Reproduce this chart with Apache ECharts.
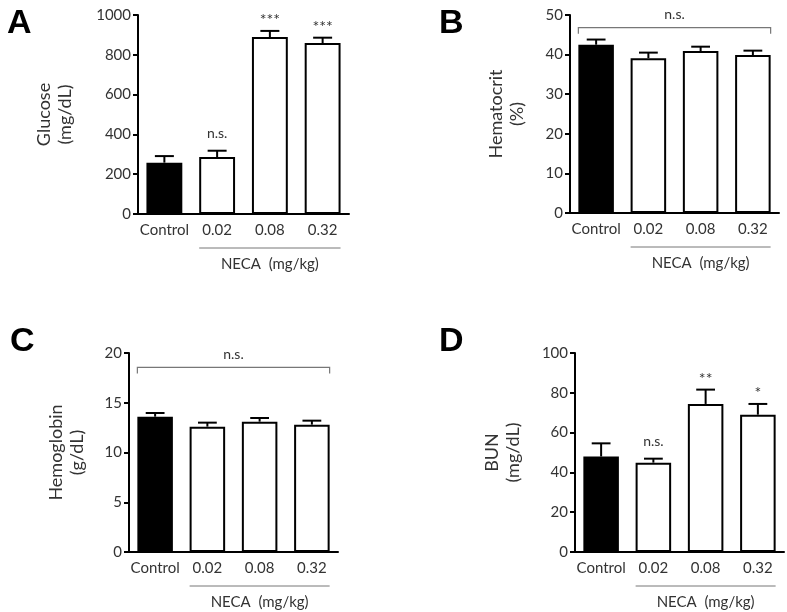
<!DOCTYPE html>
<html>
<head>
<meta charset="utf-8">
<script src="https://cdn.jsdelivr.net/npm/echarts@6/dist/echarts.min.js"></script>
<style>
html,body{margin:0;padding:0;background:#fff;}
#chart{width:787px;height:612px;}
</style>
</head>
<body>
<div id="chart"></div>
<script>
// ---- data ----
const categories = ['Control', '0.02', '0.08', '0.32'];

const glucoseMean = [258, 286, 889, 859];
const glucoseSem  = [33, 32, 31, 27];
const glucoseSig  = ['', 'n.s.', '***', '***'];

const hematocritMean = [42.5, 39.1, 40.9, 39.9];
const hematocritSem  = [1.3, 1.4, 1.1, 1.1];

const hemoglobinMean = [13.6, 12.6, 13.1, 12.8];
const hemoglobinSem  = [0.37, 0.4, 0.37, 0.4];

const bunMean = [48.0, 44.9, 74.4, 69.0];
const bunSem  = [6.6, 2.0, 7.2, 5.4];
const bunSig  = ['', 'n.s.', '**', '*'];

const glucoseTicks    = [0, 200, 400, 600, 800, 1000];
const hematocritTicks = [0, 10, 20, 30, 40, 50];
const hemoglobinTicks = [0, 5, 10, 15, 20];
const bunTicks        = [0, 20, 40, 60, 80, 100];

const groupLabel = 'NECA  (mg/kg)';

// ---- build ----
const FONT = 'Lato, "Open Sans", sans-serif';
const TXT = '#333';
const BAR_FRAC = 0.68;

const panels = [
  {letter: 'A', name: 'Glucose\n(mg/dL)', mean: glucoseMean, sem: glucoseSem, sig: glucoseSig, ticks: glucoseTicks, bracket: null,
   grid: {left: 138, top: 15, width: 211, height: 199}, nameGap: 62, letterPos: {left: 2, top: 2}},
  {letter: 'B', name: 'Hematocrit\n(%)', mean: hematocritMean, sem: hematocritSem, sig: null, ticks: hematocritTicks, bracket: 46.8,
   grid: {left: 570, top: 15, width: 209, height: 198}, nameGap: 42, letterPos: {left: 434, top: 2}},
  {letter: 'C', name: 'Hemoglobin\n(g/dL)', mean: hemoglobinMean, sem: hemoglobinSem, sig: null, ticks: hemoglobinTicks, bracket: 18.55,
   grid: {left: 129, top: 353, width: 209, height: 199}, nameGap: 41, letterPos: {left: 5, top: 320}},
  {letter: 'D', name: 'BUN\n(mg/dL)', mean: bunMean, sem: bunSem, sig: bunSig, ticks: bunTicks, bracket: null,
   grid: {left: 575, top: 353, width: 209, height: 199}, nameGap: 51, letterPos: {left: 434, top: 320}}
];

const option = {
  backgroundColor: '#fff',
  animation: false,
  title: [], grid: [], xAxis: [], yAxis: [], series: []
};

panels.forEach((p, i) => {
  option.title.push({
    text: p.letter, left: p.letterPos.left, top: p.letterPos.top,
    textStyle: {fontFamily: 'Liberation Sans, Arial, sans-serif', fontWeight: 'bold', fontSize: 34, color: '#000'}
  });
  option.grid.push(Object.assign({containLabel: false}, p.grid));
  option.xAxis.push({
    type: 'category', gridIndex: i, data: categories,
    axisLine: {lineStyle: {color: '#000', width: 2}},
    axisTick: {alignWithLabel: true, interval: 0, length: 5, lineStyle: {color: '#000', width: 2}},
    axisLabel: {interval: 0, color: TXT, fontFamily: FONT, fontSize: 15, margin: 9}
  });
  const t = p.ticks;
  option.yAxis.push({
    type: 'value', gridIndex: i, min: t[0], max: t[t.length - 1], interval: t[1] - t[0],
    name: p.name, nameLocation: 'middle', nameRotate: 90, nameGap: p.nameGap,
    nameTextStyle: {color: TXT, fontFamily: FONT, fontSize: 18, lineHeight: 21},
    axisLine: {show: true, lineStyle: {color: '#000', width: 2}},
    axisTick: {show: true, length: 5, lineStyle: {color: '#000', width: 2}},
    axisLabel: {color: TXT, fontFamily: FONT, fontSize: 15, margin: 7, formatter: v => String(v)},
    splitLine: {show: false}
  });
  // bars
  option.series.push({
    type: 'bar', xAxisIndex: i, yAxisIndex: i, barWidth: (BAR_FRAC * 100) + '%',
    data: p.mean.map((v, k) => ({
      value: v,
      itemStyle: {color: k === 0 ? '#000' : '#fff', borderColor: '#000', borderWidth: 2}
    })),
    z: 2
  });
  // error bars
  option.series.push({
    type: 'custom', xAxisIndex: i, yAxisIndex: i, z: 3,
    data: p.mean.map((v, k) => [k, v, v + p.sem[k]]),
    renderItem: function (params, api) {
      const base = api.coord([api.value(0), api.value(1)]);
      const top = api.coord([api.value(0), api.value(2)]);
      const band = api.size([1, 0])[0];
      const cap = band * 0.18;
      return {
        type: 'group', children: [
          {type: 'line', shape: {x1: base[0], y1: base[1], x2: top[0], y2: top[1]}, style: {stroke: '#000', lineWidth: 2}},
          {type: 'line', shape: {x1: top[0] - cap, y1: top[1], x2: top[0] + cap, y2: top[1]}, style: {stroke: '#000', lineWidth: 2}}
        ]
      };
    }
  });
  // significance labels
  if (p.sig) {
    option.series.push({
      type: 'custom', xAxisIndex: i, yAxisIndex: i, z: 4,
      data: p.mean.map((v, k) => [k, v + p.sem[k], p.sig[k]]),
      renderItem: function (params, api) {
        const idx = params.dataIndex;
        const s = p.sig[idx];
        if (!s) return null;
        const top = api.coord([api.value(0), api.value(1)]);
        const isStar = s.indexOf('*') >= 0;
        return {
          type: 'text',
          style: {text: s, x: top[0], y: top[1] - (isStar ? 3 : 10), align: 'center', verticalAlign: 'bottom',
                  fill: TXT, fontFamily: FONT, fontSize: isStar ? 16 : 14}
        };
      }
    });
  }
  // group underline, group label, n.s. bracket
  option.series.push({
    type: 'custom', xAxisIndex: i, yAxisIndex: i, z: 4, clip: false,
    data: [[0]],
    renderItem: function (params, api) {
      const band = api.size([1, 0])[0];
      const half = band * BAR_FRAC / 2;
      const a = api.coord([1, 0]);
      const b = api.coord([3, 0]);
      const x1 = a[0] - half, x2 = b[0] + half;
      const yLine = a[1] + 34;
      const children = [
        {type: 'line', shape: {x1: x1, y1: yLine, x2: x2, y2: yLine}, style: {stroke: '#777', lineWidth: 1}},
        {type: 'text', style: {text: groupLabel, x: (x1 + x2) / 2, y: yLine + 16, align: 'center', verticalAlign: 'middle',
          fill: TXT, fontFamily: FONT, fontSize: 15}}
      ];
      if (p.bracket != null) {
        const c0 = api.coord([0, p.bracket]);
        const c3 = api.coord([3, p.bracket]);
        const bx1 = c0[0] - half, bx2 = c3[0] + half;
        const y = c0[1];
        children.push({type: 'polyline', shape: {points: [[bx1, y + 6], [bx1, y], [bx2, y], [bx2, y + 6]]},
          style: {stroke: '#777', lineWidth: 1.2, fill: null}});
        children.push({type: 'text', style: {text: 'n.s.', x: (bx1 + bx2) / 2, y: y - 13, align: 'center', verticalAlign: 'middle',
          fill: TXT, fontFamily: FONT, fontSize: 14}});
      }
      return {type: 'group', children: children};
    }
  });
});

const chart = echarts.init(document.getElementById('chart'), null, {renderer: 'canvas'});
chart.setOption(option);
</script>
</body>
</html>
